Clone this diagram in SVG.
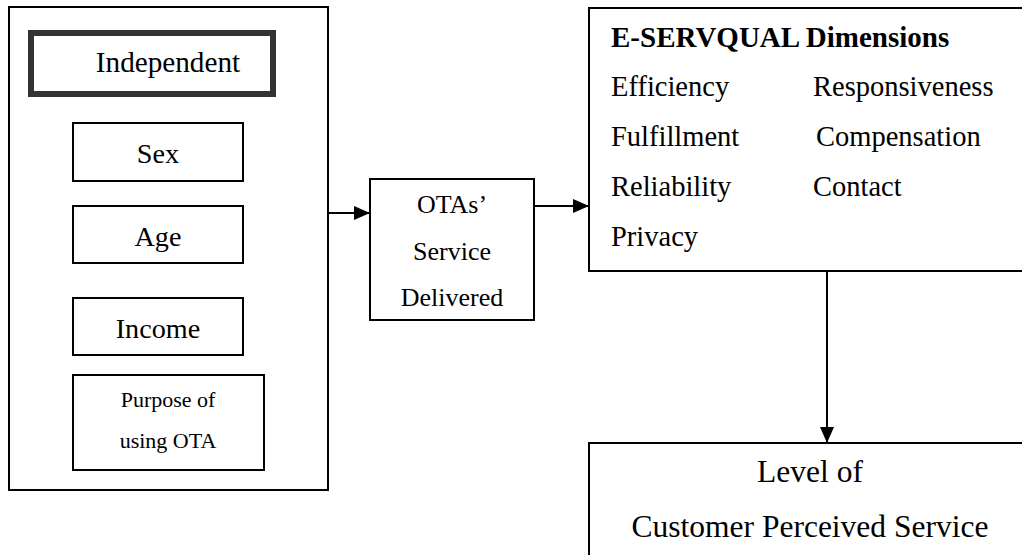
<svg xmlns="http://www.w3.org/2000/svg" width="1022" height="555" viewBox="0 0 1022 555">
<defs>
<style>
.box{fill:#fff;stroke:#000;stroke-width:2}
.edge{stroke:#000;stroke-width:2;fill:none}
</style>
<marker id="ah" markerWidth="16" markerHeight="14" refX="16" refY="7" orient="auto" markerUnits="userSpaceOnUse">
<path d="M0,0 L16,7 L0,14 Z" fill="#000"/>
</marker>
</defs>
<rect width="1022" height="555" fill="#fff"/>
<g font-family="'Liberation Serif', 'Times New Roman', Times, 'DejaVu Serif', serif" font-weight="normal" fill="#000">
<g id="independent-group">
<rect class="box" x="9" y="7" width="319" height="483"/>
</g>
<g id="independent">
<rect x="31" y="33" width="242" height="61" fill="#fff" stroke="#333" stroke-width="6"/>
<text x="168" y="72" font-size="29.2" text-anchor="middle">Independent</text>
</g>
<g id="sex">
<rect class="box" x="73" y="123" width="170" height="58"/>
<text x="158" y="163" font-size="28.2" text-anchor="middle">Sex</text>
</g>
<g id="age">
<rect class="box" x="73" y="206" width="170" height="57"/>
<text x="158" y="246" font-size="28.2" text-anchor="middle">Age</text>
</g>
<g id="income">
<rect class="box" x="73" y="298" width="170" height="57"/>
<text x="158" y="338" font-size="28.2" text-anchor="middle">Income</text>
</g>
<g id="purpose">
<rect class="box" x="73" y="375" width="191" height="95"/>
<text x="168" y="407" font-size="22" text-anchor="middle">Purpose of</text>
<text x="168" y="448" font-size="22" text-anchor="middle">using OTA</text>
</g>
<g id="ota">
<rect class="box" x="370" y="179" width="164" height="141"/>
<text x="452" y="213" font-size="26" text-anchor="middle">OTAs’</text>
<text x="452" y="260" font-size="26" text-anchor="middle">Service</text>
<text x="452" y="306" font-size="26" text-anchor="middle">Delivered</text>
</g>
<g id="eservqual">
<rect class="box" x="589" y="8" width="445" height="263"/>
<text x="611" y="47" font-size="29" font-weight="bold">E-SERVQUAL Dimensions</text>
<text x="611" y="96" font-size="28.5">Efficiency</text>
<text x="813" y="96" font-size="28.5">Responsiveness</text>
<text x="611" y="146" font-size="28.5">Fulfillment</text>
<text x="816" y="146" font-size="28.5">Compensation</text>
<text x="611" y="196" font-size="28.5">Reliability</text>
<text x="813" y="196" font-size="28.5">Contact</text>
<text x="611" y="246" font-size="28.5">Privacy</text>
</g>
<g id="level">
<rect class="box" x="589" y="443" width="445" height="130"/>
<text x="810" y="482" font-size="31.5" text-anchor="middle">Level of</text>
<text x="810" y="537" font-size="31.5" text-anchor="middle">Customer Perceived Service</text>
</g>
</g>
<g id="connectors">
<line class="edge" x1="328" y1="213" x2="370" y2="213" marker-end="url(#ah)"/>
<line class="edge" x1="534" y1="206" x2="589" y2="206" marker-end="url(#ah)"/>
<line class="edge" x1="827" y1="271" x2="827" y2="443" marker-end="url(#ah)"/>
</g>
</svg>
